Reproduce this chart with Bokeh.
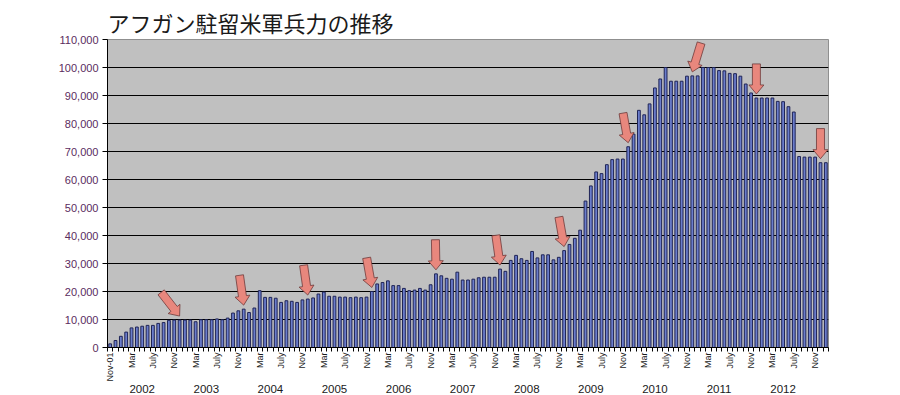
import math
import pandas as pd
from bokeh.plotting import figure
from bokeh.models import (Range1d, LinearAxis, FixedTicker, NumeralTickFormatter,
                          Grid, ColumnDataSource)
from bokeh.embed import file_html
from bokeh.resources import INLINE

# ---- data (monthly US troop levels, Nov 2001 - Jan 2013) ----
troops = [
    1300, 2500,
    4000, 5500, 7000, 7300, 7600, 7900, 7900, 8600, 8900, 9700, 9800, 9800,
    9800, 9800, 9200, 9900, 9900, 9900, 10200, 9900, 10500, 12300, 13100, 13700,
    12500, 14100, 20300, 17900, 17900, 17600, 16100, 16700, 16500, 16100, 17000, 17300,
    17700, 19100, 19800, 18300, 18300, 18000, 18000, 17800, 18000, 17800, 18000, 20000,
    22700, 23200, 23800, 22100, 22100, 21100, 20300, 20500, 21100, 20500, 22400, 26300,
    25600, 24700, 24400, 26900, 24100, 24100, 24400, 24900, 25100, 25100, 25100, 28000,
    27200, 31100, 32900, 31700, 31100, 34300, 32000, 33100, 33100, 31300, 32200, 34600,
    36800, 39000, 41900, 52300, 57700, 62700, 62100, 65300, 67100, 67300, 67300, 71700,
    76200, 84700, 83100, 87000, 92700, 95900, 100000, 95100, 95100, 95100, 96900, 97000,
    97000, 100000, 100000, 100000, 98900, 98800, 97900, 97800, 96900, 94100, 90900, 89100,
    89100, 89100, 89100, 87900, 87800, 86000, 84100, 68200, 68000, 68000, 68000, 66000,
    66000,
]
months = pd.date_range("2001-11-01", periods=len(troops), freq="MS")
month_abbr = {3: "Mar", 7: "July", 11: "Nov"}
first_label = "Nov-01"
years = ["2002", "2003", "2004", "2005", "2006", "2007", "2008", "2009", "2010", "2011", "2012"]
y_ticks = [0, 10000, 20000, 30000, 40000, 50000, 60000, 70000, 80000, 90000, 100000, 110000]
title_text = "アフガン駐留米軍兵力の推移"

# ---- derived positions ----
idx = list(range(len(troops)))
tick_pos = idx[::4]
tick_labels = {}
for i in tick_pos:
    tick_labels[i] = first_label if i == 0 else month_abbr[months[i].month]
year_pos = [i for i in idx if months[i].month == 5 and str(months[i].year) in years]
year_labels = dict(zip(year_pos, years))
dec_pos = [i for i in idx if months[i].month == 12 and str(months[i].year) in years]

# ---- figure geometry ----
W, H = 900, 395
BL, BR, BT, BB = 107, 72, 39, 44
FW, FH = W - BL - BR, 307
x0, x1 = -0.5, len(troops) - 0.5
y0, y1 = 0, 110000
dxpp = (x1 - x0) / FW
dypp = (y1 - y0) / FH

p = figure(width=W, height=H, output_backend="svg", toolbar_location=None,
           x_range=Range1d(x0, x1), y_range=Range1d(y0, y1),
           x_axis_type=None, y_axis_type=None,
           min_border_left=BL, min_border_right=BR, min_border_top=BT, min_border_bottom=BB)
p.background_fill_color = "#c0c0c0"
p.border_fill_color = "white"
p.outline_line_color = "#8f8f8f"
p.outline_line_width = 1

p.title.text = title_text
p.title.text_font = "Noto Sans CJK JP"
p.title.text_font_size = "22px"
p.title.text_font_style = "normal"
p.title.text_color = "#1a1a1a"
p.title.align = "left"
p.title.standoff = 4

yaxis = LinearAxis(ticker=FixedTicker(ticks=y_ticks),
                   formatter=NumeralTickFormatter(format="0,0"),
                   major_tick_out=5, major_tick_in=0, minor_tick_out=0, minor_tick_in=0,
                   axis_line_color="black", major_tick_line_color="black",
                   major_label_text_font="Liberation Sans", major_label_text_font_size="11px",
                   major_label_text_color="#5b2c5e", major_label_standoff=4)
p.add_layout(yaxis, "left")
p.add_layout(Grid(dimension=1, ticker=FixedTicker(ticks=y_ticks[1:-1]),
                  grid_line_color="black", grid_line_width=1))

xaxis = LinearAxis(ticker=FixedTicker(ticks=tick_pos, minor_ticks=[i - 0.5 for i in idx] + [x1]),
                   major_label_overrides=tick_labels,
                   major_label_orientation=math.pi / 2,
                   major_tick_in=0, major_tick_out=0, minor_tick_in=0, minor_tick_out=4,
                   axis_line_color="black", minor_tick_line_color="black",
                   major_label_text_font="Liberation Sans", major_label_text_font_size="9px",
                   major_label_text_color="#1a1a1a", major_label_standoff=1)
p.add_layout(xaxis, "below")

yearaxis = LinearAxis(ticker=FixedTicker(ticks=year_pos, minor_ticks=[]),
                      major_label_overrides=year_labels,
                      major_tick_in=0, major_tick_out=0, minor_tick_in=0, minor_tick_out=0,
                      axis_line_color=None,
                      major_label_text_font="Liberation Sans", major_label_text_font_size="11.5px",
                      major_label_text_color="#1a1a1a", major_label_standoff=0)
p.add_layout(yearaxis, "below")

src = ColumnDataSource(dict(x=idx, top=troops))
p.vbar(x="x", top="top", width=0.52, bottom=0, source=src,
       fill_color="#6b7dcc", line_color="#1f2456", line_width=1)

# ---- block arrows pointing at each December ----
tilts = [38, 8, 8, 10, 1, 8, 10, 10, -17, 0, 0]   # degrees from vertical
L, SW, HW, HL, GAP = 30, 8, 15, 9, 4
local = [(0, 0), (HW / 2, HL), (SW / 2, HL), (SW / 2, L), (-SW / 2, L), (-SW / 2, HL), (-HW / 2, HL)]
xs_all, ys_all = [], []
for pos, t in zip(dec_pos, tilts):
    th = math.radians(t)
    tx, ty = pos, troops[pos] + GAP * dypp
    xs, ys = [], []
    for v, u in local:
        sx = -u * math.sin(th) + v * math.cos(th)
        sy = -u * math.cos(th) - v * math.sin(th)   # screen-down positive
        xs.append(tx + sx * dxpp)
        ys.append(ty - sy * dypp)
    xs_all.append(xs)
    ys_all.append(ys)
p.patches(xs_all, ys_all, fill_color="#e8877d", line_color="#6e3a3a", line_width=0.8)

open("out.html", "w").write(file_html(p, INLINE))
